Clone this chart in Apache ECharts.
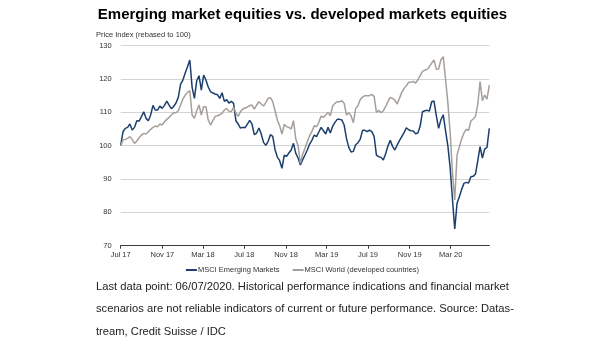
<!DOCTYPE html>
<html>
<head>
<meta charset="utf-8">
<script src="https://cdn.jsdelivr.net/npm/echarts@6/dist/echarts.min.js"></script>
<style>
  html, body { margin: 0; padding: 0; background: #ffffff; }
  #chart { width: 605px; height: 341px; }
</style>
</head>
<body>
<div id="chart"></div>
<script>
// Weekly-ish price index, rebased to 100 at the start of July 2017
const EM_VALUES = [
  100, 104.2, 105.2, 105.5, 106.5, 104.7, 105.5, 107.5, 107.4, 108.7,
  110.2, 108.2, 107.5, 109.2, 112.1, 110.7, 110.7, 111.9, 111.2, 112.1,
  113.4, 112.2, 111.1, 111.8, 112.8, 114.5, 118.5, 119.7, 121.8, 123.7,
  125.7, 117.5, 114.2, 119.5, 121.0, 116.7, 121.2, 119.7, 117.6, 116.2,
  115.8, 115.5, 115.3, 114.2, 115.9, 113.3, 113.8, 112.8, 113.3, 112.7,
  107.5, 106.5, 105.3, 105.5, 105.4, 106.5, 107.6, 106.5, 103.3, 103.8,
  105.3, 103.5, 101.0, 100.1, 101.3, 103.3, 102.8, 98.8, 96.6, 95.5,
  93.2, 97.2, 96.8, 97.8, 98.7, 100.7, 97.7, 96.3, 94.2, 95.8,
  97.2, 98.7, 100.5, 101.6, 103.2, 102.7, 104.1, 105.5, 104.5, 103.5,
  105.5, 103.8, 105.8, 107.0, 107.9, 107.9, 107.7, 106.2, 102.2, 99.5,
  98.1, 98.3, 100.3, 100.9, 102.0, 104.6, 104.6, 104.2, 104.7, 104.2,
  102.8, 97.2, 96.7, 96.5, 95.7, 97.6, 99.9, 101.6, 99.8, 98.7,
  100.2, 101.5, 102.7, 103.9, 105.4, 104.8, 104.5, 104.4, 103.6, 103.8,
  105.9, 110.2, 110.5, 110.6, 110.4, 113.2, 113.4, 109.0, 105.2, 107.8,
  109.3, 104.5, 100.0, 93.5, 84.0, 75.0, 82.7, 84.7, 86.9, 88.7,
  89.0, 88.8, 90.7, 90.8, 91.5, 95.5, 99.7, 96.3, 99.0, 99.5,
  105.2
];

const WORLD_VALUES = [
  100, 101.7, 101.9, 102.2, 102.7, 101.9, 100.7, 101.4, 102.4, 103.2,
  103.7, 103.5, 104.2, 104.9, 105.5, 105.9, 105.7, 106.5, 106.2, 107.2,
  107.9, 108.5, 109.2, 109.9, 109.9, 110.5, 112.2, 114.0, 115.2, 116.0,
  116.5, 109.2, 108.2, 110.5, 112.2, 109.2, 111.7, 111.7, 107.7, 106.2,
  107.5, 108.8, 109.0, 109.3, 109.7, 110.7, 111.2, 110.3, 110.2, 111.5,
  109.8, 108.8, 110.2, 111.0, 111.3, 111.6, 112.0, 112.2, 111.0, 112.2,
  113.2, 112.5, 111.9, 113.0, 114.2, 114.4, 113.2, 110.5, 107.7, 106.0,
  103.5, 106.4, 105.7, 105.5, 105.0, 107.5, 102.0, 100.0, 94.7, 97.5,
  99.2, 101.2, 103.0, 104.3, 106.0, 105.7, 107.0, 108.9, 108.5, 109.2,
  110.0, 109.0, 111.9, 112.7, 113.2, 113.2, 113.5, 112.7, 109.2, 109.9,
  109.0, 106.9, 111.2, 112.0, 113.9, 114.6, 115.0, 115.0, 115.0, 115.4,
  114.8, 110.0, 110.6, 109.9, 110.5, 111.7, 113.2, 114.5, 114.2, 113.7,
  112.5, 114.2, 116.0, 117.2, 118.0, 119.0, 119.0, 119.3, 118.8, 119.8,
  121.0, 122.3, 122.7, 122.9, 123.7, 124.8, 125.7, 122.9, 123.0, 125.8,
  126.7, 120.0, 113.0, 104.0, 92.0, 83.7, 97.2, 99.7, 102.0, 103.8,
  105.0, 104.5, 107.4, 108.0, 108.8, 112.5, 119.2, 113.5, 115.2, 114.0,
  118.2
];

const SERIES_NAMES = ['MSCI Emerging Markets', 'MSCI World (developed countries)'];

// Axis ticks: every four months, starting July 2017
const TICK_LABELS = ['Jul 17', 'Nov 17', 'Mar 18', 'Jul 18', 'Nov 18', 'Mar 19', 'Jul 19', 'Nov 19', 'Mar 20'];
const TICK_MONTHS = [[2017, 6], [2017, 10], [2018, 2], [2018, 6], [2018, 10], [2019, 2], [2019, 6], [2019, 10], [2020, 2]];
const Y_MIN = 70, Y_MAX = 130, Y_STEP = 10;

const FOOTNOTE = [
  'Last data point: 06/07/2020. Historical performance indications and financial market',
  'scenarios are not reliable indicators of current or future performance. Source: Datas-',
  'tream, Credit Suisse / IDC'
];

// Time is measured in days from 1 July 2017; the samples span until late June 2020
const DAY = 86400000;
const START = Date.UTC(2017, 6, 1);
const SPAN_DAYS = 1088;
const dayOf = (i, n) => i * SPAN_DAYS / (n - 1);
const tickDays = TICK_MONTHS.map(([y, m]) => (Date.UTC(y, m, 1) - START) / DAY);

const emData = EM_VALUES.map((v, i) => [dayOf(i, EM_VALUES.length), v]);
const worldData = WORLD_VALUES.map((v, i) => [dayOf(i, WORLD_VALUES.length), v]);

const FONT = '"Liberation Sans", Arial, sans-serif';
const BLUE = '#1c3f6e';
const GREY = '#a69f99';

const chart = echarts.init(document.getElementById('chart'), null, { renderer: 'canvas' });

chart.setOption({
  animation: false,
  backgroundColor: '#ffffff',
  textStyle: { fontFamily: FONT },
  title: {
    text: 'Emerging market equities vs. developed markets equities',
    left: 'center',
    top: 2,
    textStyle: { fontFamily: FONT, fontSize: 15, fontWeight: 'bold', color: '#000000' }
  },
  grid: { left: 120.7, right: 115.7, top: 45.7, bottom: 95.3, containLabel: false },
  legend: {
    data: SERIES_NAMES,
    top: 261,
    left: 'center',
    icon: 'rect',
    itemWidth: 11,
    itemHeight: 2,
    itemGap: 13,
    textStyle: { fontFamily: FONT, fontSize: 7.5, color: '#333333', padding: [0, 0, 0, -4] }
  },
  xAxis: {
    type: 'value',
    min: 0,
    max: SPAN_DAYS,
    splitLine: { show: false },
    axisLine: { show: true, lineStyle: { color: '#3a3a3a', width: 1 } },
    axisTick: { show: true, length: 3, customValues: tickDays, lineStyle: { color: '#3a3a3a' } },
    axisLabel: {
      customValues: tickDays,
      fontFamily: FONT,
      fontSize: 7.5,
      color: '#333333',
      margin: 5,
      formatter: (v) => {
        const k = tickDays.findIndex(d => Math.abs(d - v) < 0.5);
        return k >= 0 ? TICK_LABELS[k] : '';
      }
    }
  },
  yAxis: {
    type: 'value',
    min: Y_MIN,
    max: Y_MAX,
    interval: Y_STEP,
    axisLine: { show: false },
    axisTick: { show: false },
    splitLine: { show: true, lineStyle: { color: '#d4d4d4', width: 1 } },
    axisLabel: { fontFamily: FONT, fontSize: 7.5, color: '#333333', margin: 9 }
  },
  series: [
    {
      name: SERIES_NAMES[0],
      type: 'line',
      data: emData,
      showSymbol: false,
      color: BLUE,
      lineStyle: { color: BLUE, width: 1.5 },
      z: 2
    },
    {
      name: SERIES_NAMES[1],
      type: 'line',
      data: worldData,
      showSymbol: false,
      color: GREY,
      lineStyle: { color: GREY, width: 1.5 },
      z: 3
    }
  ],
  graphic: [
    {
      type: 'text', left: 96, top: 31,
      style: { text: 'Price Index (rebased to 100)', fontFamily: FONT, fontSize: 7.5, fill: '#333333' }
    },
    ...FOOTNOTE.map((line, k) => ({
      type: 'text', left: 96, top: 281 + k * 22.5,
      style: { text: line, fontFamily: FONT, fontSize: 11.2, fill: '#222222' }
    }))
  ]
});
</script>
</body>
</html>
